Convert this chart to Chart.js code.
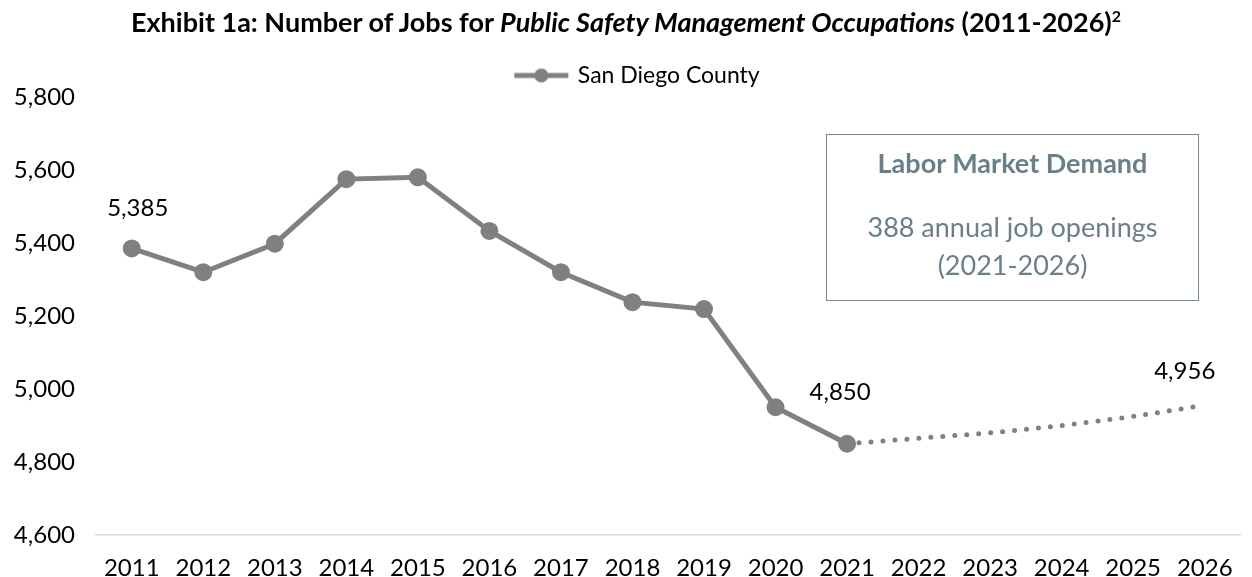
<!DOCTYPE html>
<html>
<head>
<meta charset="utf-8">
<script src="https://cdn.jsdelivr.net/npm/chart.js@4.4.1/dist/chart.umd.min.js"></script>
<style>
  html, body { margin: 0; padding: 0; background: #fff; }
  #wrap { position: relative; width: 1252px; height: 577px; font-family: Lato, "Noto Sans", sans-serif; }
  #chart { position: absolute; left: 0; top: 0; }
  #title { position: absolute; left: 0; top: 6px; width: 1252px; text-align: center; font-size: 27px; line-height: 32px;
           font-weight: bold; color: #000; white-space: nowrap; }
  #title sup { font-size: 16px; line-height: 0; }
  #demand { position: absolute; left: 826px; top: 134px; width: 373px; height: 167px; border: 1.5px solid #6f8d9c;
            color: #687f8c; text-align: center; box-sizing: border-box; }
  #demand div { position: absolute; left: 0; width: 100%; line-height: 32px; white-space: nowrap; }
  #demand .head { font-weight: bold; font-size: 27px; top: 12px; }
  #demand .l1 { font-size: 27px; top: 76px; }
  #demand .l2 { font-size: 27px; top: 114px; }
</style>
</head>
<body>
<div id="wrap">
  <canvas id="chart" width="1252" height="577"></canvas>
  <div id="title">Exhibit 1a: Number of Jobs for <i>Public Safety Management Occupations</i> (2011-2026)<sup>2</sup></div>
  <div id="demand">
    <div class="head">Labor Market Demand</div>
    <div class="l1">388 annual job openings</div>
    <div class="l2">(2021-2026)</div>
  </div>
</div>
<script>
const years = ['2011', '2012', '2013', '2014', '2015', '2016', '2017', '2018',
               '2019', '2020', '2021', '2022', '2023', '2024', '2025', '2026']
const historical = [5385, 5320, 5398, 5575, 5580, 5433, 5320, 5238, 5219, 4950, 4850,
                    null, null, null, null, null]
const projected = [null, null, null, null, null, null, null, null, null, null, 4850,
                   4865, 4880, 4900, 4925, 4956]
const yMin = 4600
const yMax = 5800
const yStep = 200

const lineGray = '#808080'
const fontFamily = 'Lato, "Noto Sans", sans-serif'

// legend symbol: short line with a dot in the middle
function legendSymbol() {
    const c = document.createElement('canvas')
    c.width = 58
    c.height = 16
    const ctx = c.getContext('2d')
    ctx.strokeStyle = lineGray
    ctx.lineWidth = 5
    ctx.beginPath()
    ctx.moveTo(2, 8)
    ctx.lineTo(56, 8)
    ctx.stroke()
    ctx.fillStyle = lineGray
    ctx.beginPath()
    ctx.arc(29, 8, 7, 0, Math.PI * 2)
    ctx.fill()
    return c
}

// which points get a value label, with offsets from the point
const valueLabels = [
    {dataset: 0, index: 0, dx: 6, dy: -40},
    {dataset: 0, index: 10, dx: -7, dy: -51},
    {dataset: 1, index: 15, dx: -20, dy: -34}
]

const labelPlugin = {
    id: 'valueLabels',
    afterLayout(chart) {
        // nudge legend a bit right, it sits off-centre in the original
        chart.legend.left += 14
        chart.legend.right += 14
    },
    afterDatasetsDraw(chart) {
        const ctx = chart.ctx
        ctx.save()
        ctx.font = `24px ${fontFamily}`
        ctx.fillStyle = '#000'
        ctx.textAlign = 'center'
        ctx.textBaseline = 'middle'
        valueLabels.forEach(l => {
            const pt = chart.getDatasetMeta(l.dataset).data[l.index]
            const v = chart.data.datasets[l.dataset].data[l.index]
            ctx.fillText(v.toLocaleString('en-US'), pt.x + l.dx, pt.y + l.dy)
        })
        ctx.restore()
    }
}

const symbol = legendSymbol()

new Chart(document.getElementById('chart'), {
    type: 'line',
    data: {
        labels: years,
        datasets: [{
            label: 'San Diego County',
            data: historical,
            borderColor: lineGray,
            backgroundColor: lineGray,
            borderWidth: 5,
            pointRadius: 6.5,
            pointHoverRadius: 6.5,
            pointStyle: 'circle',
            tension: 0
        }, {
            label: 'Projection',
            data: projected,
            borderColor: lineGray,
            borderWidth: 5,
            borderDash: [0, 12],
            borderCapStyle: 'round',
            pointRadius: 0,
            cubicInterpolationMode: 'monotone'
        }]
    },
    options: {
        responsive: false,
        animation: false,
        layout: {padding: {top: 52, right: 4, bottom: 0, left: 0}},
        plugins: {
            legend: {
                display: true,
                position: 'top',
                labels: {
                    usePointStyle: true,
                    pointStyleWidth: 50,
                    boxHeight: 14,
                    padding: 12,
                    color: '#000',
                    font: {family: fontFamily, size: 23},
                    generateLabels: (chart) => [{
                        text: chart.data.datasets[0].label,
                        pointStyle: symbol,
                        datasetIndex: 0,
                        fontColor: '#000',
                        lineWidth: 0
                    }]
                }
            },
            tooltip: {enabled: false}
        },
        scales: {
            x: {
                offset: true,
                grid: {display: false, drawTicks: false},
                border: {display: true, color: '#d9d9d9', width: 1.5},
                ticks: {
                    color: '#000',
                    padding: 19,
                    maxRotation: 0,
                    autoSkip: false,
                    font: {family: fontFamily, size: 24}
                },
                afterFit: (s) => { s.height = 42 }
            },
            y: {
                min: yMin,
                max: yMax,
                grid: {display: false, drawTicks: false},
                border: {display: false},
                ticks: {
                    stepSize: yStep,
                    color: '#000',
                    padding: 21,
                    font: {family: fontFamily, size: 24},
                    callback: (value) => value.toLocaleString('en-US')
                },
                afterFit: (s) => { s.width = 96 }
            }
        }
    },
    plugins: [labelPlugin]
})
</script>
</body>
</html>
